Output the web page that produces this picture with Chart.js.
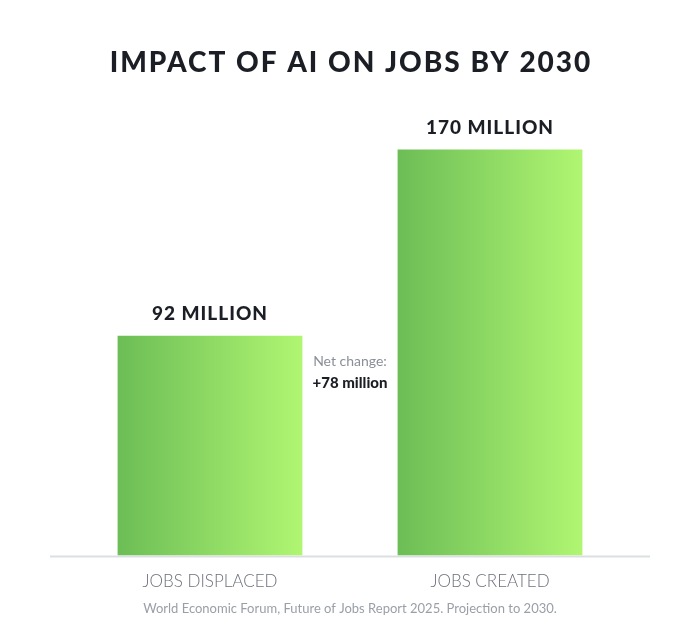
<!DOCTYPE html>
<html>
<head>
<meta charset="utf-8">
<script src="https://cdn.jsdelivr.net/npm/chart.js@4"></script>
<style>
  html, body { margin: 0; padding: 0; background: #ffffff; }
  #wrap { width: 700px; height: 637px; }
</style>
</head>
<body>
<div id="wrap"><canvas id="jobsChart"></canvas></div>
<script>
const categories = ["JOBS DISPLACED", "JOBS CREATED"];
const jobsMillions = [92, 170];
const yMax = 190;

const TITLE = "IMPACT OF AI ON JOBS BY 2030";
const SOURCE = "World Economic Forum, Future of Jobs Report 2025. Projection to 2030.";
const FONT = "Lato, 'Open Sans', sans-serif";
const BAR_PCT = 0.66;

// left-to-right green gradient for each bar
function barGradient(c) {
    const chart = c.chart;
    const xs = chart.scales.x;
    if (!chart.chartArea || !xs) return "#8fd663";
    const cx = xs.getPixelForValue(c.dataIndex);
    const half = (xs.width / categories.length) * BAR_PCT / 2;
    const g = chart.ctx.createLinearGradient(cx - half, 0, cx + half, 0);
    g.addColorStop(0, "#6cbd56");
    g.addColorStop(1, "#b0f672");
    return g;
}

// baseline, spaced title, value labels, net change note, source line
const annotations = {
    id: "annotations",
    beforeDatasetsDraw(chart) {
        const { ctx, chartArea } = chart;
        ctx.save();
        ctx.strokeStyle = "#dcdfe2";
        ctx.lineWidth = 2;
        ctx.beginPath();
        ctx.moveTo(chartArea.left - 20, chartArea.bottom + 1);
        ctx.lineTo(chartArea.right + 20, chartArea.bottom + 1);
        ctx.stroke();
        ctx.restore();
    },
    afterDatasetsDraw(chart) {
        const { ctx, width, height } = chart;
        const bars = chart.getDatasetMeta(0).data;
        ctx.save();
        ctx.textAlign = "center";
        ctx.textBaseline = "middle";

        // title drawn here so it can have letter spacing
        const tb = chart.titleBlock;
        ctx.fillStyle = "#1b1e24";
        ctx.font = "900 28px " + FONT;
        ctx.letterSpacing = "2px";
        ctx.fillText(TITLE, width / 2 + 1, tb.top + 44 + 19);

        ctx.font = "900 19px " + FONT;
        ctx.letterSpacing = "1px";
        bars.forEach((bar, i) => {
            ctx.fillText(jobsMillions[i] + " MILLION", bar.x, bar.y - 22);
        });

        ctx.letterSpacing = "0px";
        const midX = (bars[0].x + bars[1].x) / 2;
        const topY = bars[0].y;
        ctx.fillStyle = "#8a8f97";
        ctx.font = "400 14px " + FONT;
        ctx.fillText("Net change:", midX, topY + 26);
        ctx.fillStyle = "#1b1e24";
        ctx.font = "900 15px " + FONT;
        ctx.fillText("+" + (jobsMillions[1] - jobsMillions[0]) + " million", midX, topY + 47);

        ctx.fillStyle = "#9a9fa6";
        ctx.font = "400 13px " + FONT;
        ctx.fillText(SOURCE, width / 2, height - 28);
        ctx.restore();
    }
};

document.addEventListener("DOMContentLoaded", () => {
    const ctx = document.getElementById("jobsChart").getContext("2d");
    new Chart(ctx, {
        type: "bar",
        data: {
            labels: categories,
            datasets: [
                {
                    data: jobsMillions,
                    backgroundColor: barGradient,
                    borderWidth: 0,
                    barPercentage: BAR_PCT,
                    categoryPercentage: 1,
                },
            ],
        },
        options: {
            responsive: true,
            maintainAspectRatio: false,
            animation: false,
            layout: { padding: { left: 70, right: 70, top: 0, bottom: 29 } },
            scales: {
                x: {
                    grid: { display: false, drawTicks: false },
                    border: { display: false },
                    ticks: {
                        padding: 16,
                        color: "#6b7079",
                        font: { family: FONT, size: 17, weight: "300" },
                    },
                },
                y: { display: false, min: 0, max: yMax },
            },
            plugins: {
                legend: { display: false },
                tooltip: { enabled: false },
                title: {
                    display: true,
                    text: TITLE,
                    color: "rgba(0,0,0,0)",
                    font: { family: FONT, size: 28, weight: "900" },
                    padding: { top: 44, bottom: 24 },
                },
            },
        },
        plugins: [annotations],
    });
});
</script>
</body>
</html>
